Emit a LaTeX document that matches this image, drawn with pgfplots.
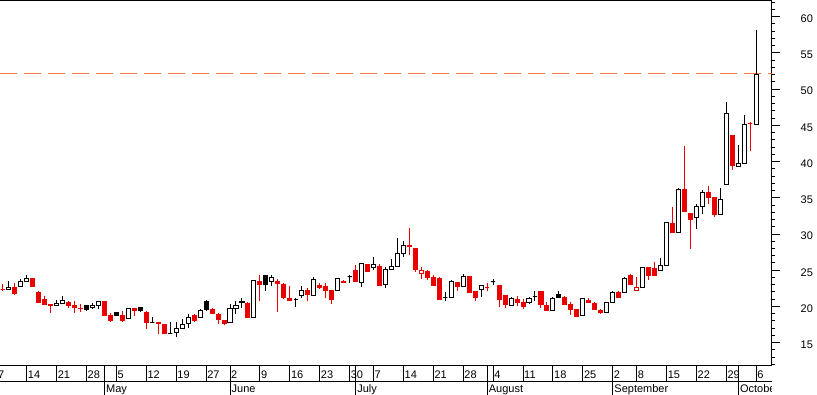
\documentclass[border=0pt]{standalone}
\usepackage{fontspec}
\setmainfont{Liberation Sans}
\usepackage{pgfplots}
\usepackage{pgfplotstable}
\pgfplotsset{compat=1.18}
\usepgfplotslibrary{statistics}

\definecolor{cred}{RGB}{235,0,0}
\definecolor{dashc}{RGB}{240,120,60}

\pgfplotstableread{
i cls lo bb bt hi
-4 R 22.2 22.4 22.4 23.1
-3 W 22.3 22.3 22.6 23.5
-2 R 21.6 21.8 22.6 23.2
-1 W 22.7 22.8 23.5 23.8
0 W 23.4 23.4 23.8 24.3
1 R 22.7 22.7 23.8 23.9
2 R 20.5 20.5 21.9 22.1
3 R 20.3 20.3 21.0 21.4
4 R 19.1 20.2 20.3 20.3
5 W 20.1 20.1 20.4 20.9
6 W 20.4 20.4 20.8 21.5
7 R 19.8 20.2 20.6 20.7
8 R 19.1 19.9 20.2 20.7
9 R 19.2 19.7 19.7 20.3
10 B 19.4 19.6 20.1 20.2
11 W 19.6 19.8 20.2 20.5
12 W 19.6 20.2 20.7 20.7
13 R 18.8 18.8 20.7 20.7
14 R 17.9 18.1 18.8 19.1
15 B 18.8 18.8 19.1 19.1
16 R 17.9 18.1 18.8 19.4
17 W 18.3 18.3 19.7 19.8
18 R 18.7 19.4 19.7 19.8
19 B 19.2 19.4 19.8 19.8
20 R 16.9 17.8 19.1 19.4
21 B 17.8 17.8 17.8 18.5
22 R 16.2 17.6 17.8 17.8
23 R 16.2 16.2 17.5 17.5
24 B 16.3 16.3 16.3 17.8
25 W 15.8 16.4 16.9 17.8
26 W 16.9 16.9 17.5 18.3
27 W 17.0 17.6 18.5 18.9
28 R 17.8 18.0 18.8 19.0
29 W 18.5 18.5 19.4 19.7
30 B 19.4 19.6 20.7 20.9
31 R 19.0 19.0 19.6 19.8
32 R 17.6 18.2 18.9 19.1
33 R 17.5 17.7 18.1 18.1
34 W 17.8 17.8 19.7 20.3
35 W 18.9 19.7 20.1 20.8
36 B 19.8 20.5 20.7 21.2
37 R 18.5 18.5 20.4 20.6
38 W 18.5 18.5 23.6 23.6
39 R 20.8 23.0 23.5 24.4
40 B 22.2 23.0 24.3 24.4
41 W 22.8 23.4 24.0 24.3
42 R 19.3 23.2 23.4 23.8
43 R 21.1 21.2 23.0 23.2
44 R 20.8 20.8 21.1 22.8
45 B 19.9 21.0 21.0 21.2
46 W 21.2 21.5 22.2 22.8
47 R 20.8 21.6 22.2 22.5
48 W 21.5 21.5 23.7 24.1
49 R 22.5 22.6 22.9 23.2
50 R 21.2 22.2 22.7 23.3
51 R 20.4 21.0 22.2 22.3
52 W 22.2 22.2 23.9 23.9
53 R 23.3 23.3 23.5 23.7
54 B 23.3 24.1 24.1 24.3
55 R 23.5 23.5 25.0 25.7
56 W 22.7 23.3 25.9 25.9
57 R 24.8 24.8 25.8 25.9
58 W 25.0 25.4 25.8 26.8
59 R 22.9 22.9 25.5 25.9
60 W 22.6 23.0 25.1 25.5
61 W 25.1 25.1 25.5 26.5
62 W 25.5 25.5 27.3 29.4
63 W 26.8 27.3 28.4 29.1
64 R 27.1 28.3 28.4 30.8
65 R 24.8 25.1 28.0 28.0
66 H 23.8 24.5 24.9 25.4
67 R 23.6 24.0 24.8 25.1
68 R 22.9 22.9 24.0 24.4
69 R 21.0 21.0 23.9 24.1
70 B 20.7 21.3 21.3 22.0
71 W 21.2 21.2 23.4 23.6
72 R 22.1 22.8 23.3 23.3
73 W 22.7 22.7 24.2 24.5
74 R 21.9 21.9 24.2 24.2
75 R 20.8 21.2 22.0 22.2
76 W 21.3 22.3 22.9 22.9
77 R 22.2 22.6 22.6 23.2
78 B 22.9 23.4 23.4 23.8
79 R 19.9 21.0 22.9 22.9
80 R 19.8 20.3 21.5 21.5
81 W 20.1 20.1 21.1 21.3
82 R 20.1 20.6 21.0 21.4
83 R 19.6 20.0 20.6 21.0
84 W 20.4 20.5 21.1 21.3
85 B 20.8 21.4 21.4 22.1
86 R 19.8 20.3 22.1 22.1
87 R 19.5 19.5 20.2 20.6
88 W 19.5 19.5 21.1 21.3
89 B 21.2 21.2 21.7 22.1
90 R 20.3 20.3 21.2 21.5
91 R 18.8 19.6 20.3 20.6
92 R 18.6 18.6 19.6 19.6
93 W 18.7 18.7 21.1 21.2
94 R 20.5 20.5 20.8 21.2
95 R 19.5 19.6 20.4 20.6
96 R 19.0 19.2 19.5 19.7
97 W 19.2 19.2 20.5 20.6
98 W 20.5 20.5 21.9 22.1
99 R 21.3 21.3 21.9 22.1
100 W 21.9 21.9 23.8 24.1
101 R 23.0 23.0 24.3 24.5
102 H 22.2 22.2 22.6 24.1
103 W 22.6 22.6 25.4 25.5
104 R 23.7 24.3 25.4 25.4
105 R 24.3 24.3 25.2 26.1
106 W 24.9 24.9 25.6 26.7
107 W 25.6 25.6 31.6 31.7
108 R 30.2 30.2 31.5 33.7
109 W 30.2 30.2 36.2 36.3
110 R 33.1 33.1 36.1 42.2
111 R 28.0 32.0 32.8 32.8
112 W 30.7 32.3 33.8 34.1
113 W 32.7 33.8 35.7 36.1
114 R 34.1 35.1 35.7 36.6
115 R 32.4 32.7 35.0 35.0
116 W 32.7 32.7 34.7 36.3
117 W 36.8 36.8 46.6 48.2
118 R 38.8 39.4 43.6 43.6
119 W 39.3 39.3 39.7 42.3
120 W 39.7 39.7 45.1 46.4
121 R 41.5 45.2 45.2 45.4
122 W 45.1 45.1 52.0 58.1
}\candles

\pgfplotsset{
  candW/.style={black, line width=1pt, solid,
    boxplot/every box/.style={draw=black, fill=white},
    boxplot/every whisker/.style={draw=black},
    boxplot/every median/.style={draw=black}},
  candR/.style={cred, line width=1pt, solid,
    boxplot/every box/.style={draw=cred, fill=cred},
    boxplot/every whisker/.style={draw=cred},
    boxplot/every median/.style={draw=cred}},
  candB/.style={black, line width=1pt, solid,
    boxplot/every box/.style={draw=black, fill=black},
    boxplot/every whisker/.style={draw=black},
    boxplot/every median/.style={draw=black}},
  candH/.style={cred, line width=1pt, solid,
    boxplot/every box/.style={draw=cred, fill=white},
    boxplot/every whisker/.style={draw=cred},
    boxplot/every median/.style={draw=cred}},
  basegeom/.style={scale only axis, width=771.5pt, height=365pt,
    at={(0pt,29.5pt)}, anchor=south west, xmin=-4.465, xmax=124.55},
}

\begin{document}
\begin{tikzpicture}[font=\fontsize{11}{13}\selectfont]
\begin{axis}[basegeom, ymin=11.85, ymax=62.24,
  axis x line*=box, axis y line*=right,
  xtick=\empty,
  ytick={15,20,...,60}, minor ytick={12,...,62},
  ytick pos=right, tick align=outside,
  major tick length=8pt, minor tick length=3.5pt,
  tick style={black, line width=1pt},
  axis line style={black, line width=1pt},
  /pgf/number format/assume math mode=true,
  yticklabel style={anchor=west, inner sep=0pt, xshift=21pt, yshift=-2pt},
  boxplot/draw direction=y,
  boxplot/box extend=0.68, boxplot/whisker extend=0,
]
\addplot[dashc, line width=1pt, dash pattern=on 17pt off 7pt] coordinates {(-4.465,52.2) (124.55,52.2)};
\pgfplotstablegetrowsof{\candles}
\pgfmathtruncatemacro\nrows{\pgfplotsretval-1}
\pgfplotsforeachungrouped \rowidx in {0,...,\nrows}{%
  \pgfplotstablegetelem{\rowidx}{i}\of\candles \let\cI\pgfplotsretval
  \pgfplotstablegetelem{\rowidx}{cls}\of\candles \let\cCls\pgfplotsretval
  \pgfplotstablegetelem{\rowidx}{lo}\of\candles \let\cLo\pgfplotsretval
  \pgfplotstablegetelem{\rowidx}{bb}\of\candles \let\cBb\pgfplotsretval
  \pgfplotstablegetelem{\rowidx}{bt}\of\candles \let\cBt\pgfplotsretval
  \pgfplotstablegetelem{\rowidx}{hi}\of\candles \let\cHi\pgfplotsretval
  \edef\temp{\noexpand\addplot[cand\cCls, boxplot prepared={draw position=\cI,
    lower whisker=\cLo, lower quartile=\cBb, median=\cBb,
    upper quartile=\cBt, upper whisker=\cHi}] coordinates {};}%
  \temp
}
\end{axis}

\begin{axis}[basegeom, ymin=0, ymax=1, clip=false,
  axis x line*=bottom, axis y line=none, ytick=\empty,
  xtick={0,5,10,15,20,25,30,34,39,44,49,54,58,63,68,73,78,83,88,93,98,102,107,112,117,122},
  xticklabels={14,21,28,5,12,19,27,2,9,16,23,30,7,14,21,28,4,11,18,25,2,8,15,22,29,6},
  xtick pos=bottom, tick align=outside, major tick length=16pt,
  tick style={black, line width=1pt},
  axis line style={black, line width=1pt},
  xticklabel style={anchor=base west, inner sep=0pt, xshift=1pt, yshift=2.5pt},
]
\node[anchor=base west, inner sep=0pt] at (axis cs:-5,0) [xshift=1pt, yshift=-13.5pt] {7};
\end{axis}

\begin{axis}[basegeom, ymin=0, ymax=1,
  axis x line*=bottom, axis y line=none, ytick=\empty,
  xtick={13,34,55,77,98,119},
  xticklabels={May,June,July,August,September,October},
  xtick pos=bottom, tick align=outside, major tick length=29.5pt,
  tick style={black, line width=1pt},
  axis line style={black, line width=1pt},
  xticklabel style={anchor=base west, inner sep=0pt, xshift=1.5pt, yshift=2pt},
]
\end{axis}

\draw[line width=1pt] (0pt,13.5pt) -- (772pt,13.5pt);
\fill[white] (772.1pt,0pt) rectangle (817pt,28.9pt);
\pgfresetboundingbox
\useasboundingbox (0pt,0pt) rectangle (817pt,395pt);
\end{tikzpicture}
\end{document}
